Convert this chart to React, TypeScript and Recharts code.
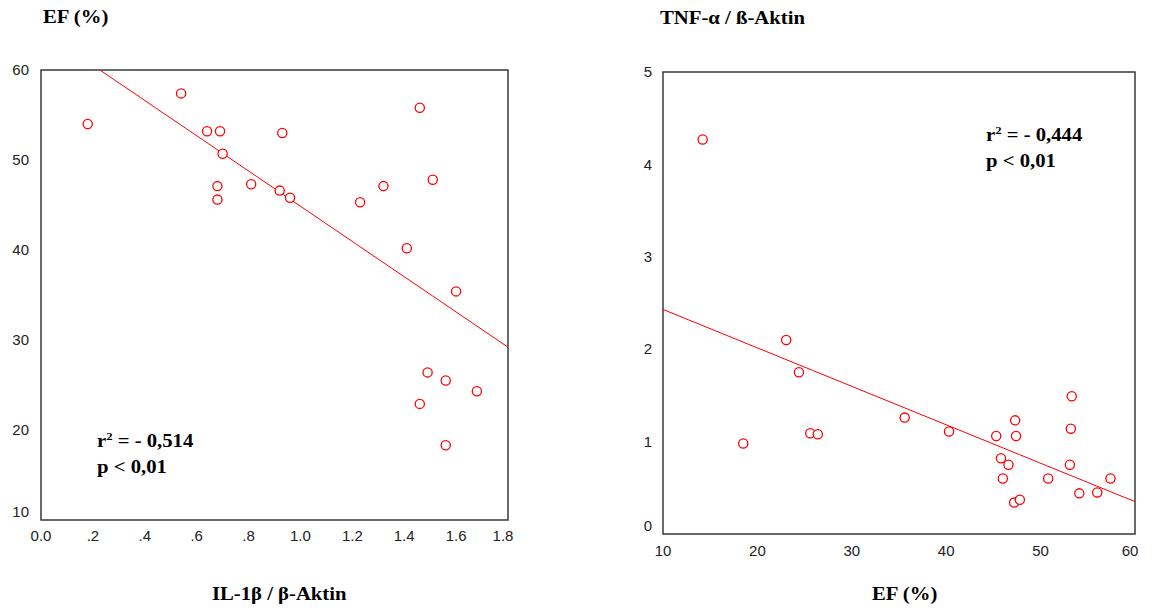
import React from 'react'
import { ScatterChart, Scatter, XAxis, YAxis, ReferenceArea, ReferenceLine } from 'recharts'

// Left panel: IL-1β / β-Aktin (x) against EF in % (y)
const il1bValues = [0.18, 0.54, 0.64, 0.69, 0.7, 0.68, 0.68, 0.81, 0.92, 0.96, 0.93, 1.23, 1.32, 1.46, 1.51, 1.41, 1.6, 1.49, 1.56, 1.68, 1.46, 1.56]
const efLeftValues = [54.0, 57.4, 53.2, 53.2, 50.7, 47.1, 45.6, 47.3, 46.6, 45.8, 53.0, 45.3, 47.1, 55.8, 47.8, 40.2, 35.4, 26.4, 25.5, 24.3, 22.9, 18.3]
const il1bFit = [{ x: 0.227, y: 60 }, { x: 1.8, y: 29.2 }]
const il1bTicks = [0, 0.2, 0.4, 0.6, 0.8, 1.0, 1.2, 1.4, 1.6, 1.8]
const il1bTickLabels = ['0.0', '.2', '.4', '.6', '.8', '1.0', '1.2', '1.4', '1.6', '1.8']
const efLeftTicks = [10, 20, 30, 40, 50, 60]

// Right panel: EF in % (x) against TNF-α / ß-Aktin (y)
const efRightValues = [14.2, 23.05, 24.4, 18.5, 25.6, 26.4, 35.6, 40.3, 45.3, 47.3, 47.4, 45.8, 46.6, 46.0, 47.2, 47.8, 50.8, 53.3, 53.2, 53.1, 54.1, 56.0, 57.4]
const tnfValues = [4.27, 2.1, 1.75, 0.98, 1.09, 1.08, 1.26, 1.11, 1.06, 1.23, 1.06, 0.82, 0.75, 0.6, 0.34, 0.37, 0.6, 1.49, 1.14, 0.75, 0.44, 0.45, 0.6]
const tnfFit = [{ x: 10, y: 2.43 }, { x: 60, y: 0.35 }]
const efRightTicks = [10, 20, 30, 40, 50, 60]
const tnfTicks = [0, 1, 2, 3, 4, 5]

const leftPoints = il1bValues.map((x, i) => ({ x, y: efLeftValues[i] }))
const rightPoints = efRightValues.map((x, i) => ({ x, y: tnfValues[i] }))

const FRAME = '#3a3a3a'
const RED = '#ff0000'
const tickFont = { fontFamily: '"Liberation Sans", Arial, sans-serif', fontSize: 15, fill: '#222' }

const OpenCircle = (props: any) => (
  <circle cx={props.cx} cy={props.cy} r={4.6} fill="#fff" stroke={RED} strokeWidth={1.3} />
)

// y labels: the lowest one sits a little above its tick
const YTick = (props: any) => {
  const { x, y, payload, index } = props
  return (
    <text x={x} y={y + (index === 0 ? -8 : 0)} dy="0.35em" textAnchor="end" {...tickFont}>
      {payload.value}
    </text>
  )
}

// x labels: the last one is nudged left of the frame corner
const XTick = (props: any) => {
  const { x, y, payload, index, visibleTicksCount, labels } = props
  const last = index === visibleTicksCount - 1
  return (
    <text x={x + (last ? -5 : 0)} y={y} dy="0.71em" textAnchor="middle" {...tickFont}>
      {labels ? labels[index] : payload.value}
    </text>
  )
}

const heading: React.CSSProperties = {
  position: 'absolute',
  fontFamily: '"Liberation Serif", "Times New Roman", serif',
  fontWeight: 700,
  fontSize: 18,
  lineHeight: '24px',
  color: '#000',
  whiteSpace: 'nowrap',
  transform: 'scaleX(1.15)',
  transformOrigin: 'left top',
}

const Sq = () => <span style={{ fontSize: 11, position: 'relative', top: -7 }}>2</span>

export default function App() {
  return (
    <div style={{ position: 'absolute', left: 0, top: 0, width: 1153, height: 612, background: '#fff', overflow: 'hidden' }}>
      <div style={{ position: 'absolute', left: 0, top: 0 }}>
        <ScatterChart width={560} height={560} margin={{ top: 70, right: 52, bottom: 0, left: 0 }}>
          <XAxis
            type="number"
            dataKey="x"
            domain={[0, 1.8]}
            ticks={il1bTicks}
            height={40}
            axisLine={false}
            tickLine={false}
            tickSize={0}
            tickMargin={10}
            tick={<XTick labels={il1bTickLabels} />}
            allowDataOverflow
          />
          <YAxis
            type="number"
            dataKey="y"
            domain={[10, 60]}
            ticks={efLeftTicks}
            width={41}
            axisLine={false}
            tickLine={false}
            tickSize={0}
            tickMargin={12}
            tick={<YTick />}
            allowDataOverflow
          />
          <ReferenceArea x1={0} x2={1.8} y1={10} y2={60} fill="none" stroke={FRAME} strokeWidth={1.5} />
          <ReferenceLine segment={il1bFit} stroke={RED} strokeWidth={1} />
          <Scatter data={leftPoints} shape={OpenCircle} isAnimationActive={false} />
        </ScatterChart>
      </div>

      <div style={{ position: 'absolute', left: 620, top: 0 }}>
        <ScatterChart width={530} height={580} margin={{ top: 72, right: 15, bottom: 0, left: 0 }}>
          <XAxis
            type="number"
            dataKey="x"
            domain={[10, 60]}
            ticks={efRightTicks}
            height={46}
            axisLine={false}
            tickLine={false}
            tickSize={0}
            tickMargin={11}
            tick={<XTick />}
            allowDataOverflow
          />
          <YAxis
            type="number"
            dataKey="y"
            domain={[0, 5]}
            ticks={tnfTicks}
            width={43}
            axisLine={false}
            tickLine={false}
            tickSize={0}
            tickMargin={11}
            tick={<YTick />}
            allowDataOverflow
          />
          <ReferenceArea x1={10} x2={60} y1={0} y2={5} fill="none" stroke={FRAME} strokeWidth={1.5} />
          <ReferenceLine segment={tnfFit} stroke={RED} strokeWidth={1} />
          <Scatter data={rightPoints} shape={OpenCircle} isAnimationActive={false} />
        </ScatterChart>
      </div>

      <div style={{ ...heading, left: 43, top: 5 }}>EF (%)</div>
      <div style={{ ...heading, left: 660, top: 6 }}>TNF-α / ß-Aktin</div>
      <div style={{ ...heading, left: 212, top: 582 }}>IL-1β / β-Aktin</div>
      <div style={{ ...heading, left: 872, top: 582 }}>EF (%)</div>

      <div style={{ ...heading, left: 97, top: 429 }}>
        r<Sq /> = - 0,514
        <br />
        p &lt; 0,01
      </div>
      <div style={{ ...heading, left: 986, top: 123 }}>
        r<Sq /> = - 0,444
        <br />
        p &lt; 0,01
      </div>
    </div>
  )
}
